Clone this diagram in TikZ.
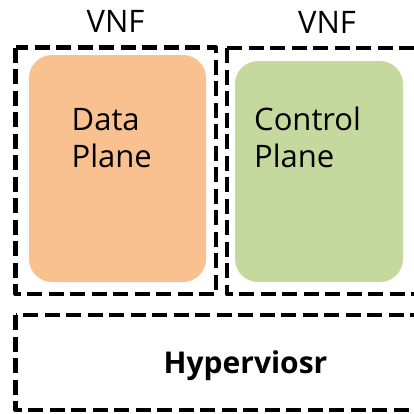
\documentclass[tikz,border=0pt]{standalone}
\usepackage{fontspec}
\setmainfont{Open Sans}
\begin{document}
\begin{tikzpicture}[x=1pt,y=-1pt,
  vnfbox/.style={draw=black, line width=4.5pt, dash pattern=on 15pt off 6.5pt, line join=round},
  plane/.style={rounded corners=23pt},
  lbl/.style={inner sep=0pt, font=\fontsize{31}{37}\selectfont},
  planelbl/.style={lbl, align=left, anchor=base west}
]
\useasboundingbox (0,0) rectangle (414,413);
% plane blocks
\fill[plane, fill={rgb,255:red,249;green,193;blue,143}] (29,55) rectangle (206,282);
\fill[plane, fill={rgb,255:red,197;green,216;blue,158}] (235,61) rectangle (403,282);
% dashed VNF frames and hypervisor frame
\draw[vnfbox] (15.5,47.5) rectangle (216,294);
\draw[vnfbox] (227,48) rectangle (440,294);
\draw[vnfbox] (15.5,315) rectangle (480,410);
% labels (base anchor sits on the last line)
\node[lbl, anchor=base] (vnfa) at (115.5,32) {VNF};
\node[lbl, anchor=base] (vnfb) at (327,33) {VNF};
\node[planelbl] (data) at (71.5,167) {Data\\Plane};
\node[planelbl] (ctrl) at (254,167) {Control\\Plane};
\node[lbl, anchor=base, font=\fontsize{30}{36}\selectfont\bfseries] (hyp) at (245.5,373) {Hyperviosr};
\end{tikzpicture}
\end{document}
